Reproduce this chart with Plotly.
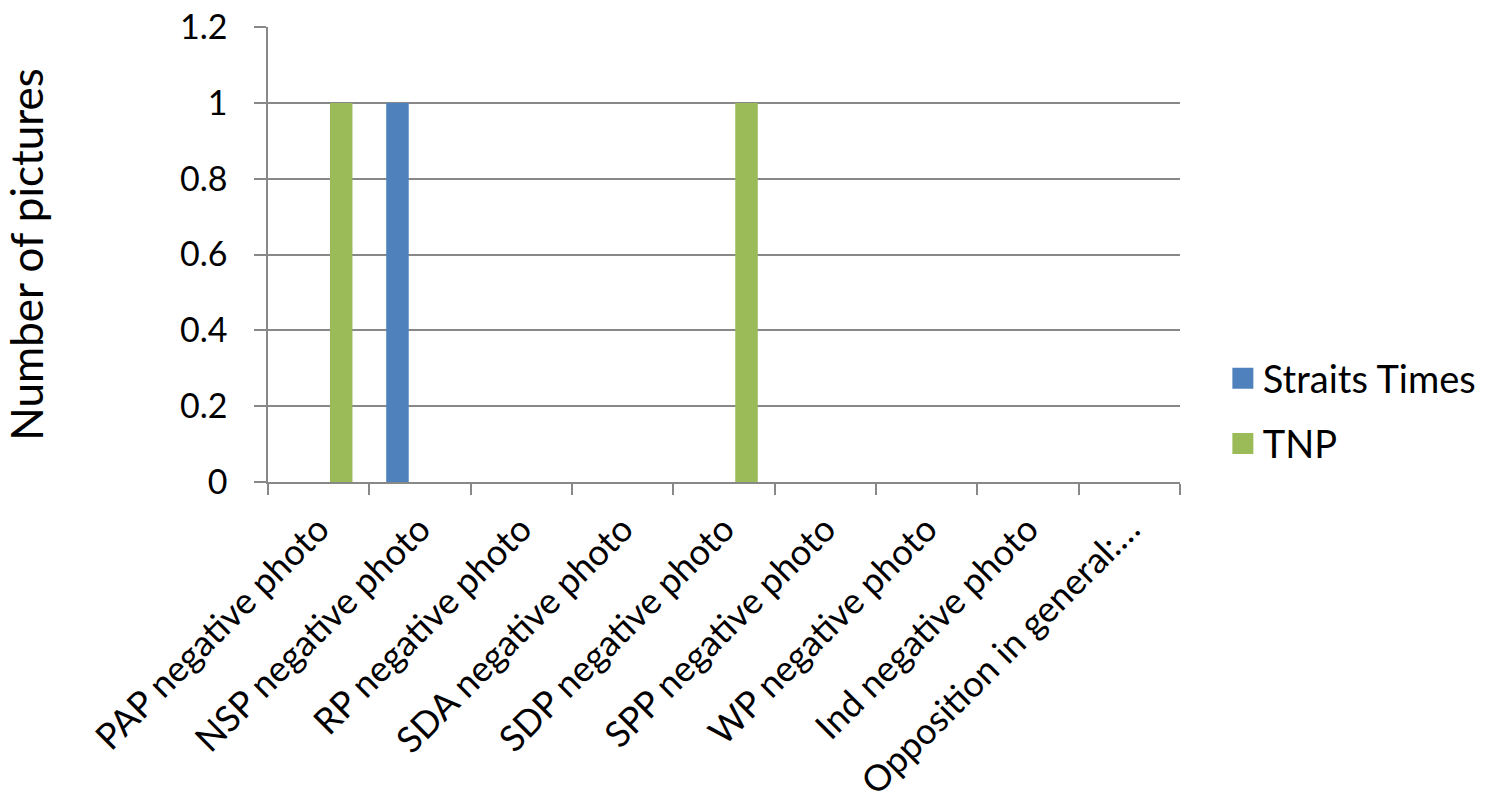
import plotly.graph_objects as go

categories = [
    "PAP negative photo",
    "NSP negative photo",
    "RP negative photo",
    "SDA negative photo",
    "SDP negative photo",
    "SPP negative photo",
    "WP negative photo",
    "Ind negative photo",
    "Opposition in general:…",
]
straits_times = [0, 1, 0, 0, 0, 0, 0, 0, 0]
unnamed_series = [0, 0, 0, 0, 0, 0, 0, 0, 0]
tnp = [1, 0, 0, 0, 1, 0, 0, 0, 0]

series_names = ["Straits Times", "TNP"]
series_colors = ["#4F81BD", "#9BBB59"]

y_ticks = [0, 0.2, 0.4, 0.6, 0.8, 1.0, 1.2]
y_tick_labels = ["0", "0.2", "0.4", "0.6", "0.8", "1", "1.2"]

FONT = "Lato"
GRID = "#888888"

fig = go.Figure()
fig.add_trace(go.Bar(x=categories, y=straits_times, name=series_names[0],
                     legendgroup="a", showlegend=False,
                     marker=dict(color=series_colors[0], line=dict(width=0))))
fig.add_trace(go.Bar(x=categories, y=unnamed_series, name="", showlegend=False,
                     legendgroup="b",
                     marker=dict(color="#C0504D", line=dict(width=0))))
fig.add_trace(go.Bar(x=categories, y=tnp, name=series_names[1],
                     legendgroup="c", showlegend=False,
                     marker=dict(color=series_colors[1], line=dict(width=0))))

# legend entries with larger square swatches (same groups as the bars)
for name, color, grp in zip(series_names, series_colors, ["a", "c"]):
    fig.add_trace(go.Scatter(
        x=[None], y=[None], mode="markers", name=name, legendgroup=grp,
        marker=dict(symbol="square", size=16, color=color,
                    line=dict(color=color, width=5)),
        hoverinfo="skip",
    ))

fig.update_layout(
    width=1493, height=807,
    autosize=False,
    margin=dict(l=268, r=311, t=27, b=325, pad=0),
    paper_bgcolor="white", plot_bgcolor="white",
    barmode="group", bargap=0.333, bargroupgap=0,
    font=dict(family=FONT, size=34, color="#000000"),
    legend=dict(
        x=1.047, y=0.156, xanchor="left", yanchor="middle",
        font=dict(family=FONT, size=38, color="#000000"),
        traceorder="grouped", tracegroupgap=13, itemwidth=30,
        bgcolor="rgba(0,0,0,0)",
    ),
    xaxis=dict(
        type="category",
        tickangle=-45,
        tickfont=dict(family=FONT, size=36, color="#000000"),
        ticks="outside", ticklen=11, tickwidth=1.5, tickcolor=GRID,
        tickson="boundaries",
        ticklabelstandoff=10,
        showline=True, linecolor=GRID, linewidth=1.5,
        showgrid=False, automargin=False,
    ),
    yaxis=dict(
        range=[0, 1.2005],
        tickvals=y_ticks, ticktext=y_tick_labels,
        tickfont=dict(family=FONT, size=34, color="#000000"),
        ticks="outside", ticklen=12, tickwidth=1.5, tickcolor=GRID,
        ticklabelstandoff=20, ticklabeloverflow="allow",
        showline=True, linecolor=GRID, linewidth=1.5,
        showgrid=True, gridcolor=GRID, gridwidth=1.5,
        zeroline=False, automargin=False,
        title=dict(text="Number of pictures", standoff=124,
                   font=dict(family=FONT, size=44, color="#000000")),
    ),
)

# remove the browser's default 8px page margin so the figure fills the window
fig.write_html("out.html", config={"displayModeBar": False},
               post_script="document.body.style.margin='0px';")
